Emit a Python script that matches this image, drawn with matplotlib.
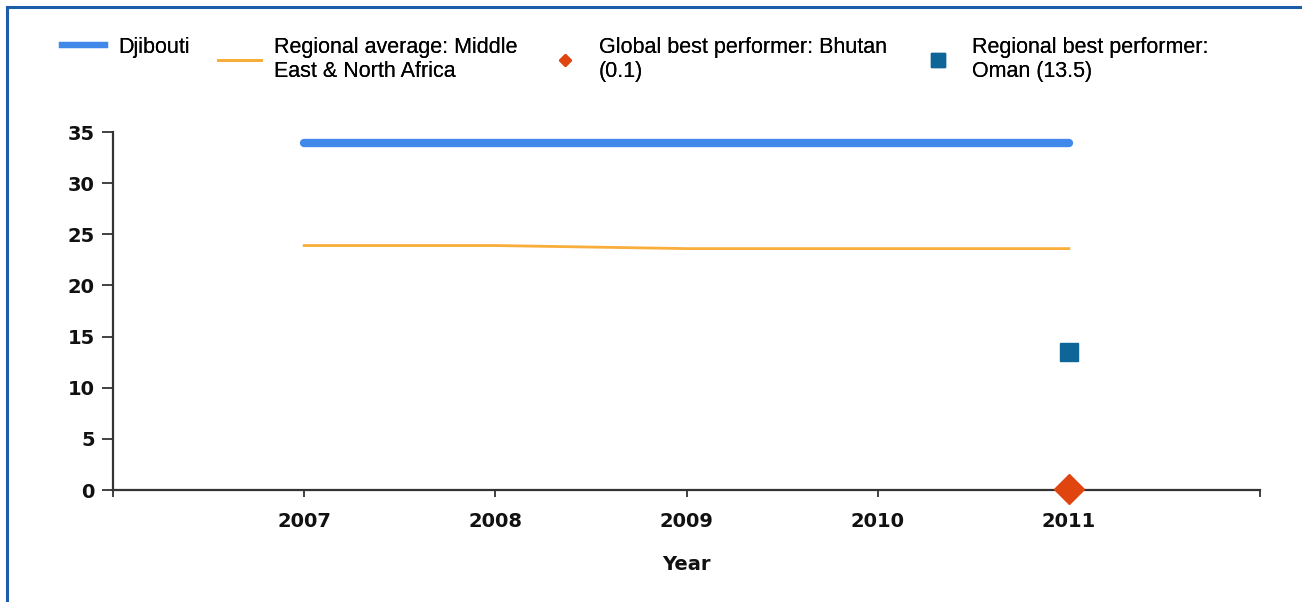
import matplotlib
matplotlib.use("Agg")
import matplotlib.pyplot as plt
from matplotlib.lines import Line2D

years = [2007, 2008, 2009, 2010, 2011]
djibouti = [33.9, 33.9, 33.9, 33.9, 33.9]
regional_avg = [23.9, 23.9, 23.6, 23.6, 23.6]
global_best_year = [2011]
global_best = [0.1]
regional_best_year = [2011]
regional_best = [13.5]

labels = [
    "Djibouti",
    "Regional average: Middle\nEast & North Africa",
    "Global best performer: Bhutan\n(0.1)",
    "Regional best performer:\nOman (13.5)",
]

W, H = 1302, 602
fig = plt.figure(figsize=(W / 100, H / 100), dpi=100)
ax = fig.add_axes([113 / W, 1 - 490 / H, (1260 - 113) / W, (490 - 132) / H])

ax.plot(years, djibouti, color="#4088ea", lw=6, solid_capstyle="round")
ax.plot(years, regional_avg, color="#f9ad3a", lw=2)
ax.plot(global_best_year, global_best, marker="D", ms=15.5, color="#e0450f",
        ls="none", clip_on=False, zorder=5)
ax.plot(regional_best_year, regional_best, marker="s", ms=13, color="#0e6597",
        ls="none", clip_on=False, zorder=5)

ax.set_xlim(2006, 2012)
ax.set_ylim(0, 35)
ax.set_yticks(range(0, 36, 5))
ax.set_xticks(range(2006, 2013))
ax.set_xticklabels([""] + [str(y) for y in years] + [""])

for side in ("top", "right"):
    ax.spines[side].set_visible(False)
for side in ("left", "bottom"):
    ax.spines[side].set_color("#333333")
    ax.spines[side].set_linewidth(1.6)

ax.tick_params(axis="y", length=8, width=1.3, color="#333333", pad=5,
               labelsize=14)
ax.tick_params(axis="x", length=5, width=1.3, color="#333333", pad=11,
               labelsize=14)
for lab in ax.get_xticklabels() + ax.get_yticklabels():
    lab.set_fontweight("bold")
    lab.set_color("#111111")
ax.set_xlabel("Year", fontsize=14, fontweight="bold", labelpad=17,
              color="#111111")

# one legend per entry so each sits where it should along the top
handles = [
    Line2D([], [], color="#4088ea", lw=4.5),
    Line2D([], [], color="#f9ad3a", lw=2),
    Line2D([], [], color="#e0450f", marker="D", ms=6.5, ls="none"),
    Line2D([], [], color="#0e6597", marker="s", ms=10.5, ls="none"),
]
legend_x = [62, 218, 543, 916]
for h, lab, lx in zip(handles, labels, legend_x):
    leg = fig.legend([h], [lab], loc="upper left",
                     bbox_to_anchor=(lx / W, 1 - 37 / H),
                     frameon=False, borderpad=0, borderaxespad=0,
                     prop=dict(family="Liberation Sans", size=15.5),
                     handlelength=2.0, handletextpad=0.6, labelspacing=0.2)
    fig.add_artist(leg)

# frame border on left and top
fig.add_artist(Line2D([6.5 / W, 6.5 / W], [0, 1 - 6.5 / H], transform=fig.transFigure,
                      color="#1c5ca8", lw=2.2))
fig.add_artist(Line2D([6.5 / W, 1], [1 - 6.5 / H, 1 - 6.5 / H], transform=fig.transFigure,
                      color="#1c5ca8", lw=2.2))

fig.savefig("out.png", dpi=100)
